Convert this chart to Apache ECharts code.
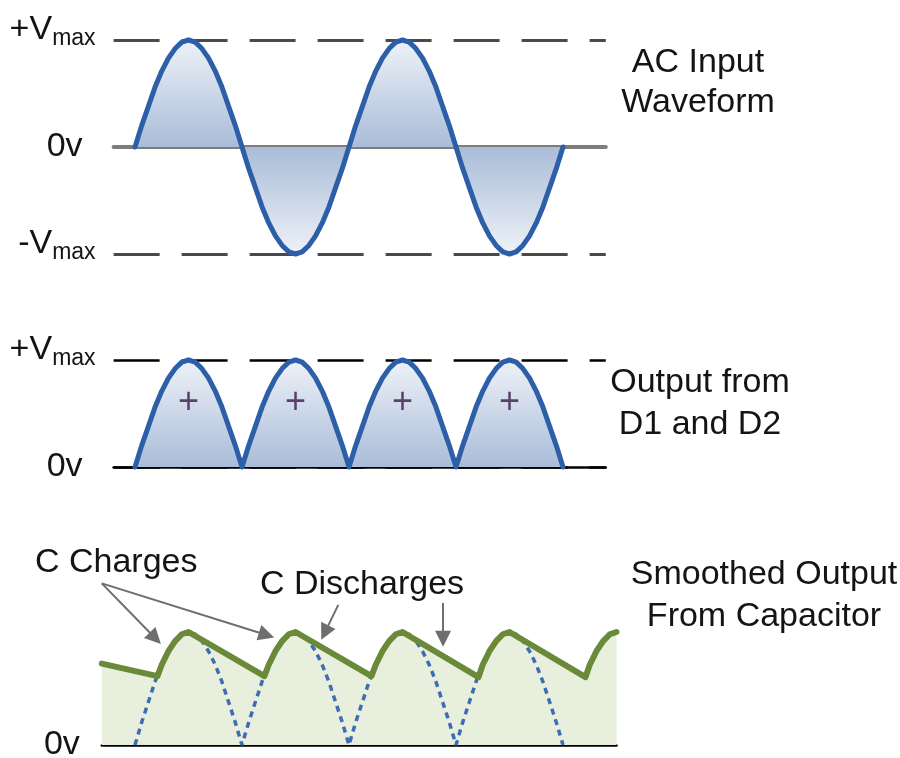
<!DOCTYPE html>
<html><head><meta charset="utf-8">
<script src="https://cdn.jsdelivr.net/npm/echarts@6/dist/echarts.min.js"></script>
<style>html,body{margin:0;padding:0;background:#fff}#c{width:900px;height:758px}</style>
</head><body><div id="c"></div>
<script>
// sample spacing along x: 1/16 of a half-cycle (x unit = one half-cycle)
const STEP = 1 / 16;

// AC input waveform (two full cycles), +1 = +Vmax
const acInput = [
  0, 0.2, 0.38, 0.56, 0.71, 0.83, 0.92, 0.98, 1, 0.98, 0.92, 0.83, 0.71, 0.56, 0.38, 0.2,
  0, -0.2, -0.38, -0.56, -0.71, -0.83, -0.92, -0.98, -1, -0.98, -0.92, -0.83, -0.71, -0.56, -0.38, -0.2,
  0, 0.2, 0.38, 0.56, 0.71, 0.83, 0.92, 0.98, 1, 0.98, 0.92, 0.83, 0.71, 0.56, 0.38, 0.2,
  0, -0.2, -0.38, -0.56, -0.71, -0.83, -0.92, -0.98, -1, -0.98, -0.92, -0.83, -0.71, -0.56, -0.38, -0.2,
  0
];

// Full-wave rectified output of D1 and D2
const rectified = [
  0, 0.2, 0.38, 0.56, 0.71, 0.83, 0.92, 0.98, 1, 0.98, 0.92, 0.83, 0.71, 0.56, 0.38, 0.2,
  0, 0.2, 0.38, 0.56, 0.71, 0.83, 0.92, 0.98, 1, 0.98, 0.92, 0.83, 0.71, 0.56, 0.38, 0.2,
  0, 0.2, 0.38, 0.56, 0.71, 0.83, 0.92, 0.98, 1, 0.98, 0.92, 0.83, 0.71, 0.56, 0.38, 0.2,
  0, 0.2, 0.38, 0.56, 0.71, 0.83, 0.92, 0.98, 1, 0.98, 0.92, 0.83, 0.71, 0.56, 0.38, 0.2,
  0
];

// Smoothed capacitor output (green line)
const smoothedX = [-0.31, 0.21, 0.25, 0.3125, 0.375, 0.4375, 0.5,
  1.21, 1.25, 1.3125, 1.375, 1.4375, 1.5,
  2.21, 2.25, 2.3125, 2.375, 2.4375, 2.5,
  3.21, 3.25, 3.3125, 3.375, 3.4375, 3.5,
  4.21, 4.25, 4.3125, 4.375, 4.4375, 4.5];
const smoothedY = [0.72, 0.61, 0.71, 0.83, 0.92, 0.98, 1,
  0.61, 0.71, 0.83, 0.92, 0.98, 1,
  0.61, 0.71, 0.83, 0.92, 0.98, 1,
  0.6, 0.71, 0.83, 0.92, 0.98, 1,
  0.6, 0.71, 0.83, 0.92, 0.98, 1];

// "+" marks inside the rectified humps
const plusX = [0.5, 1.5, 2.5, 3.5];
const plusY = [0.6, 0.6, 0.6, 0.6];

// annotation arrows [from, to] in data units of the bottom panel
const arrowLinks = [
  [[-0.31, 1.43], [0.19, 0.945]],
  [[-0.31, 1.43], [1.23, 0.973]],
  [[1.9, 1.24], [1.774, 0.995]],
  [[2.879, 1.257], [2.879, 0.94]]
];

const panelTitles = ['AC Input\nWaveform', 'Output from\nD1 and D2', 'Smoothed Output\nFrom Capacitor'];
const annotations = ['C Charges', 'C Discharges'];

const FONT = 'Liberation Sans, Arial, sans-serif';
const TXT = '#141414';
const BLUE = '#2d5fa8';

const toXY = (arr) => arr.map((v, i) => [i * STEP, v]);
const acPos = acInput.map(v => Math.max(v, 0));
const acNeg = acInput.map(v => Math.min(v, 0));
const smoothed = smoothedX.map((x, i) => [x, smoothedY[i]]);
const plusPts = plusX.map((x, i) => [x, plusY[i]]);

const gradDown = () => new echarts.graphic.LinearGradient(0, 0, 0, 1, [
  { offset: 0, color: '#eef2f8' }, { offset: 1, color: '#a9bcd8' }]);
const gradUp = () => new echarts.graphic.LinearGradient(0, 0, 0, 1, [
  { offset: 0, color: '#a9bcd8' }, { offset: 1, color: '#eef2f8' }]);

const rich = {
  v: { fontFamily: FONT, fontSize: 34, lineHeight: 54, color: TXT, verticalAlign: 'top' },
  s: { fontFamily: FONT, fontSize: 23, lineHeight: 23, color: TXT, padding: [14, 0, 0, 0], verticalAlign: 'top' },
  z: { fontFamily: FONT, fontSize: 34, lineHeight: 34, color: TXT, padding: [0, 13, 0, 0] },
  z0: { fontFamily: FONT, fontSize: 34, lineHeight: 34, color: TXT }
};
const levelFmt = (v) => v === 1 ? '{v|+V}{s|max}' : v === -1 ? '{v|-V}{s|max}' : v === 0 ? '{z|0v}' : '';

const chart = echarts.init(document.getElementById('c'), null, { renderer: 'canvas' });

const gridBase = { containLabel: false, outerBoundsMode: 'none', show: false };
const xBase = (min, max, i, lineColor, lineWidth) => ({
  type: 'value', gridIndex: i, min: min, max: max,
  axisLabel: { show: false }, axisTick: { show: false }, splitLine: { show: false },
  axisLine: { show: true, onZero: true, lineStyle: { color: lineColor, width: lineWidth } }
});
const titleStyle = (lh) => ({ fontFamily: FONT, fontSize: 34, fontWeight: 'normal', color: TXT, lineHeight: lh });

chart.setOption({
  animation: false,
  backgroundColor: '#fff',
  title: [
    { text: panelTitles[0], left: 698, top: 43, textAlign: 'center', textVerticalAlign: 'top', padding: 0, textStyle: titleStyle(40) },
    { text: panelTitles[1], left: 700, top: 362, textAlign: 'center', textVerticalAlign: 'top', padding: 0, textStyle: titleStyle(41.5) },
    { text: panelTitles[2], left: 764, top: 553, textAlign: 'center', textVerticalAlign: 'top', padding: 0, textStyle: titleStyle(42.5) },
    { text: annotations[0], left: 35, top: 546, textAlign: 'left', textVerticalAlign: 'top', padding: 0, textStyle: titleStyle(34) },
    { text: annotations[1], left: 260, top: 568, textAlign: 'left', textVerticalAlign: 'top', padding: 0, textStyle: titleStyle(34) }
  ],
  grid: [
    Object.assign({ left: 113.6, width: 492.2, top: 40, height: 214 }, gridBase),
    Object.assign({ left: 113.6, width: 492.2, top: 360, height: 107 }, gridBase),
    Object.assign({ left: 101.8, width: 514.7, top: 575.5, height: 169.5 }, gridBase)
  ],
  xAxis: [
    xBase(-0.2, 4.4, 0, '#7d7d7d', 4),
    xBase(-0.2, 4.4, 1, '#000', 2.5),
    xBase(-0.31, 4.5, 2, '#000', 2.5)
  ],
  yAxis: [
    { type: 'value', gridIndex: 0, min: -1, max: 1, interval: 1,
      axisLine: { show: false }, axisTick: { show: false },
      axisLabel: { show: true, margin: 18, formatter: levelFmt, rich: rich, showMinLabel: true, showMaxLabel: true, hideOverlap: false },
      splitLine: { show: true, lineStyle: { color: '#4a4a4a', width: 3, type: [46, 22] } } },
    { type: 'value', gridIndex: 1, min: 0, max: 1, interval: 1,
      axisLine: { show: false }, axisTick: { show: false },
      axisLabel: { show: true, margin: 18, formatter: levelFmt, rich: rich, showMinLabel: true, showMaxLabel: true, hideOverlap: false },
      splitLine: { show: true, lineStyle: { color: '#000', width: 2.5, type: [46, 22] } } },
    { type: 'value', gridIndex: 2, min: 0, max: 1.5, interval: 0.5,
      axisLine: { show: false }, axisTick: { show: false },
      axisLabel: { show: true, margin: 22, formatter: (v) => v === 0 ? '{z0|0v}' : '', rich: rich, showMinLabel: true, hideOverlap: false },
      splitLine: { show: false } }
  ],
  series: [
    { type: 'line', xAxisIndex: 0, yAxisIndex: 0, data: toXY(acPos), symbol: 'none', clip: false, z: 1,
      lineStyle: { width: 0 }, areaStyle: { color: gradDown(), opacity: 1 } },
    { type: 'line', xAxisIndex: 0, yAxisIndex: 0, data: toXY(acNeg), symbol: 'none', clip: false, z: 1,
      lineStyle: { width: 0 }, areaStyle: { color: gradUp(), opacity: 1 } },
    { type: 'line', xAxisIndex: 0, yAxisIndex: 0, data: toXY(acInput), symbol: 'none', clip: false, z: 3,
      lineStyle: { color: BLUE, width: 5, join: 'round', cap: 'round' } },

    { type: 'line', xAxisIndex: 1, yAxisIndex: 1, data: toXY(rectified), symbol: 'none', clip: false, z: 1,
      lineStyle: { width: 0 }, areaStyle: { color: gradDown(), opacity: 1 } },
    { type: 'line', xAxisIndex: 1, yAxisIndex: 1, data: toXY(rectified), symbol: 'none', clip: false, z: 3,
      lineStyle: { color: BLUE, width: 5, join: 'round', cap: 'round' } },
    { type: 'scatter', xAxisIndex: 1, yAxisIndex: 1, data: plusPts, symbolSize: 1, z: 4,
      itemStyle: { color: 'rgba(0,0,0,0)' },
      label: { show: true, position: 'inside', formatter: '+', fontFamily: FONT, fontSize: 36, color: '#3a1a4c' } },

    { type: 'line', xAxisIndex: 2, yAxisIndex: 2, data: smoothed, symbol: 'none', clip: false, z: 1,
      lineStyle: { width: 0 }, areaStyle: { color: '#e8efdc', opacity: 1 } },
    { type: 'line', xAxisIndex: 2, yAxisIndex: 2, data: toXY(rectified), symbol: 'none', clip: false, z: 2,
      lineStyle: { color: '#3d6db5', width: 3.5, type: [6, 5] } },
    { type: 'line', xAxisIndex: 2, yAxisIndex: 2, data: smoothed, symbol: 'none', clip: false, z: 3,
      lineStyle: { color: '#6a8a3a', width: 6, join: 'round', cap: 'round' },
      markLine: {
        silent: true, animation: false, symbol: ['none', 'triangle'], symbolSize: 16,
        label: { show: false },
        itemStyle: { color: '#5e5e5e' },
        lineStyle: { color: '#6e6e6e', width: 2, type: 'solid' },
        emphasis: { disabled: true },
        data: arrowLinks.map(l => [{ coord: l[0] }, { coord: l[1] }])
      } }
  ]
});
</script></body></html>
